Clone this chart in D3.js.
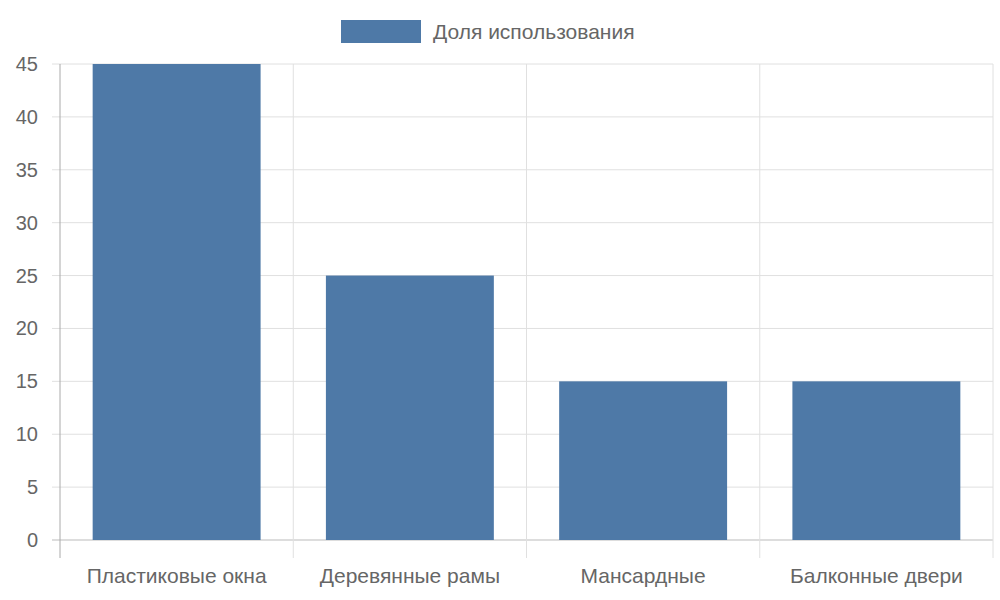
<!DOCTYPE html>
<html>
<head>
<meta charset="utf-8">
<script src="https://cdn.jsdelivr.net/npm/d3@7"></script>
<style>
  body { margin: 0; background: #fff; }
  text { font-family: "Liberation Sans", Arial, sans-serif; fill: #666; }
</style>
</head>
<body>
<div id="chart"></div>
<script>
// chart data
const categories = ["Пластиковые окна", "Деревянные рамы", "Мансардные", "Балконные двери"];
const values = [45, 25, 15, 15];
const yTicks = [0, 5, 10, 15, 20, 25, 30, 35, 40, 45];
const seriesName = "Доля использования";

let width = 1000, height = 600;
let margin = {top: 64, right: 7, bottom: 60, left: 60};
let barColor = "#4e79a7";

let svg = d3.select("#chart").append("svg")
    .attr("width", width)
    .attr("height", height);

let x = d3.scaleBand()
    .domain(categories)
    .range([margin.left, width - margin.right])
    .paddingInner(0.28)
    .paddingOuter(0.14);
let xGrid = d3.scaleBand().domain(categories).range([margin.left, width - margin.right]);

let y = d3.scaleLinear()
    .domain([0, 45])
    .range([height - margin.bottom, margin.top]);

//horizontal grid
svg.append("g").selectAll("line").data(yTicks).join("line")
    .attr("x1", margin.left - 8).attr("x2", width - margin.right)
    .attr("y1", d => y(d)).attr("y2", d => y(d))
    .attr("stroke", d => d === 0 ? "#bbb" : "#e0e0e0").attr("stroke-width", 1);

//vertical grid
let vlines = categories.map(c => xGrid(c)).concat([width - margin.right]);
svg.append("g").selectAll("line").data(vlines).join("line")
    .attr("x1", d => d).attr("x2", d => d)
    .attr("y1", margin.top).attr("y2", height - margin.bottom + 18)
    .attr("stroke", (d, i) => i === 0 ? "#aaa" : "#e0e0e0").attr("stroke-width", 1);

//bars
svg.append("g").selectAll("rect").data(values).join("rect")
    .attr("x", (d, i) => x(categories[i]))
    .attr("width", x.bandwidth())
    .attr("y", d => y(d))
    .attr("height", d => y(0) - y(d))
    .attr("fill", barColor);

//y labels
svg.append("g").selectAll("text").data(yTicks).join("text")
    .attr("x", margin.left - 22).attr("y", d => y(d))
    .attr("dy", "0.35em").attr("text-anchor", "end")
    .style("font-size", "20px").text(d => d);

//x labels
svg.append("g").selectAll("text").data(categories).join("text")
    .attr("x", d => xGrid(d) + xGrid.bandwidth() / 2)
    .attr("y", height - margin.bottom + 43)
    .attr("text-anchor", "middle")
    .style("font-size", "21px").text(d => d);

//legend
let legend = svg.append("g");
legend.append("rect").attr("x", 341).attr("y", 20).attr("width", 80).attr("height", 23).attr("fill", barColor);
legend.append("text").attr("x", 433).attr("y", 32).attr("dy", "0.35em")
    .style("font-size", "21px").text(seriesName);
</script>
</body>
</html>
